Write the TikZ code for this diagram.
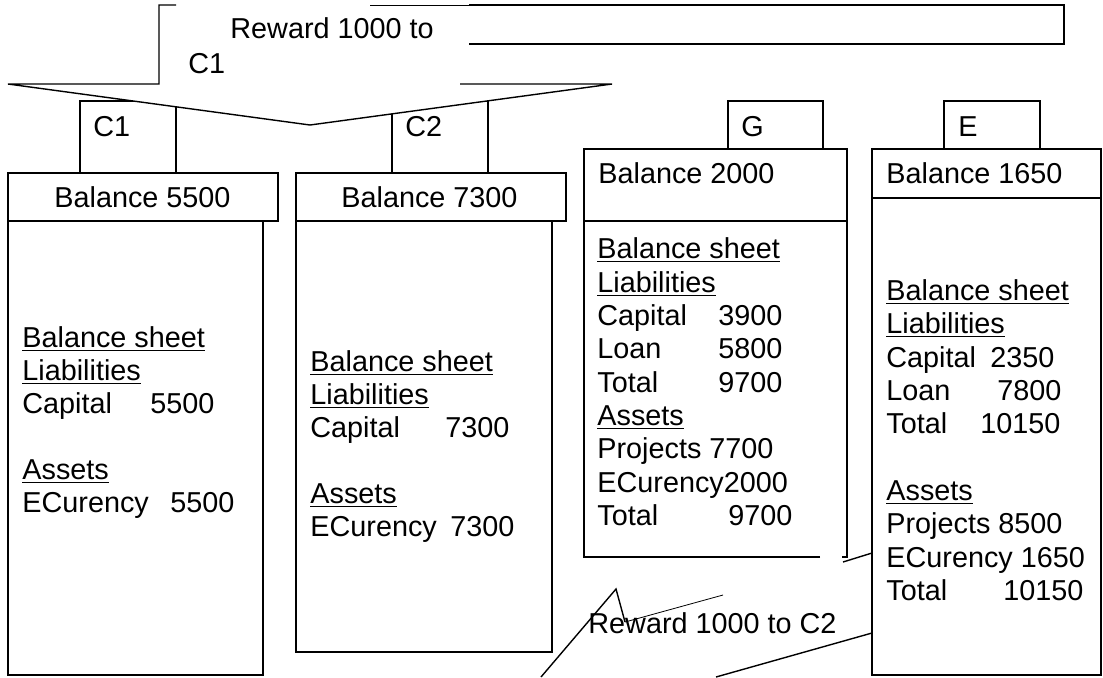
\documentclass[tikz,border=0pt]{standalone}
\usepackage{fontspec}
\setmainfont{Liberation Sans}
\newcommand{\undl}[1]{\underline{#1}}
\tikzset{
  txt/.style={anchor=base west, inner sep=0pt, font=\fontsize{14.4}{16.5}\selectfont},
  box/.style={line width=0.9pt},
  pin/.style={line width=0.7pt},
}
\begin{document}
\begin{tikzpicture}[x=0.5pt,y=-0.5pt]
\useasboundingbox (0,0) rectangle (1103,677);
% tabs
\draw[box] (80,173) rectangle (176,101);
\draw[box] (392,173) rectangle (488,101);
\draw[box] (728,149) rectangle (823,101);
\draw[box] (944,149) rectangle (1040,101);
\node[txt] (tc1) at (93,136) {C1};
\node[txt] (tc2) at (405,136) {C2};
\node[txt] (tg) at (741,136) {G};
\node[txt] (te) at (958,136) {E};
% top callout
\fill[white] (8,84) -- (159,84) -- (159,5) -- (612,5) -- (612,84) -- (310,125) -- cycle;
\draw[pin] (176,5) -- (159,5) -- (159,84) -- (8,84) -- (310,125) -- (612,84) -- (460,84);
\draw[line width=0.4pt] (370,5) -- (469,5);
\draw[box] (469,5) -- (1064,5) -- (1064,44) -- (469,44);
\node[txt] (rw1) at (230,38) {Reward 1000 to};
\node[txt] (rw1b) at (188,73) {C1};
% box C1
\draw[box] (8,173) rectangle (278,221);
\draw[box] (8,221) -- (8,675) -- (263,675) -- (263,221);
\node[txt] (c1bal) at (54,207) {Balance 5500};
\node[txt] (c1r1) at (22,347) {\undl{Balance sheet}};
\node[txt] (c1r2) at (22,380) {\undl{Liabilities}};
\node[txt] (c1r3) at (22,413) {\makebox[64pt][l]{Capital}5500};
\node[txt] (c1r4) at (22,479) {\undl{Assets}};
\node[txt] (c1r5) at (22,512) {\makebox[74pt][l]{ECurency}5500};
% box C2
\draw[box] (296,173) rectangle (566,221);
\draw[box] (296,221) -- (296,652) -- (552,652) -- (552,221);
\node[txt] (c2bal) at (341,207) {Balance 7300};
\node[txt] (c2r1) at (310,371) {\undl{Balance sheet}};
\node[txt] (c2r2) at (310,404) {\undl{Liabilities}};
\node[txt] (c2r3) at (310,437) {\makebox[67.5pt][l]{Capital}7300};
\node[txt] (c2r4) at (310,503) {\undl{Assets}};
\node[txt] (c2r5) at (310,536) {\makebox[70pt][l]{ECurency}7300};
% box G
\draw[box] (584,149) rectangle (847,221);
\draw[box] (820,557) -- (584,557) -- (584,221);
\draw[box] (842,557) -- (847,557) -- (847,221);
\node[txt] (gbal) at (598,183) {Balance 2000};
\node[txt] (gr1) at (597,258) {\undl{Balance sheet}};
\node[txt] (gr2) at (597,292) {\undl{Liabilities}};
\node[txt] (gr3) at (597,325) {\makebox[60.5pt][l]{Capital}3900};
\node[txt] (gr4) at (597,358) {\makebox[60.5pt][l]{Loan}5800};
\node[txt] (gr5) at (597,392) {\makebox[60.5pt][l]{Total}9700};
\node[txt] (gr6) at (597,425) {\undl{Assets}};
\node[txt] (gr7) at (597,458) {Projects 7700};
\node[txt] (gr8) at (597,492) {ECurency2000};
\node[txt] (gr9) at (597,525) {\makebox[65.5pt][l]{Total}9700};
% lower callout
\draw[pin] (541,677) -- (616,589) -- (625,622);
\draw[line width=0.4pt] (625,622) -- (723,595);
\draw[pin] (843,562) -- (872,553);
\draw[pin] (716,677) -- (872,633);
\node[txt] (rw2) at (588,633) {Reward 1000 to C2};
% box E
\fill[white] (872,198) rectangle (1101,675);
\draw[box] (872,149) rectangle (1101,198);
\draw[box] (872,198) rectangle (1101,675);
\node[txt] (ebal) at (886,183) {Balance 1650};
\node[txt] (er1) at (886,300) {\undl{Balance sheet}};
\node[txt] (er2) at (886,333) {\undl{Liabilities}};
\node[txt] (er3) at (886,367) {\makebox[52pt][l]{Capital}2350};
\node[txt] (er4) at (886,400) {\makebox[55.5pt][l]{Loan}7800};
\node[txt] (er5) at (886,433) {\makebox[47pt][l]{Total}10150};
\node[txt] (er6) at (886,500) {\undl{Assets}};
\node[txt] (er7) at (886,533) {Projects 8500};
\node[txt] (er8) at (886,567) {ECurency 1650};
\node[txt] (er9) at (886,600) {\makebox[58.5pt][l]{Total}10150};
\end{tikzpicture}
\end{document}
